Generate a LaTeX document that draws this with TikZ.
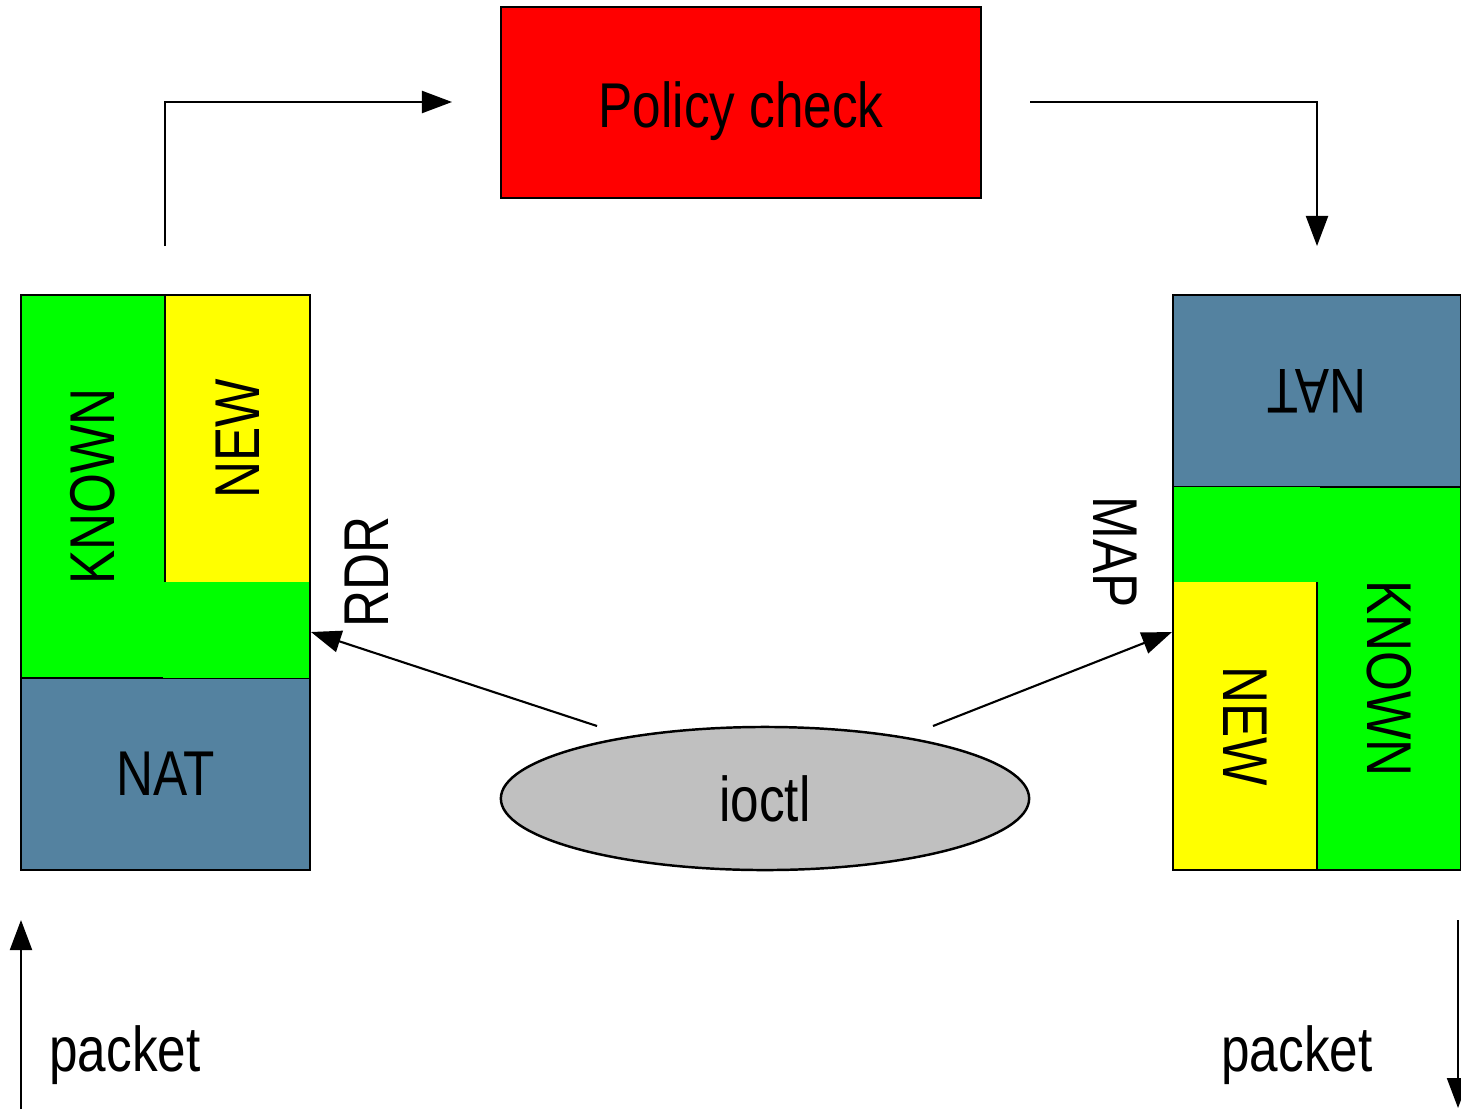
\documentclass[tikz,border=0pt]{standalone}
\usepackage{fontspec}
\setmainfont{Liberation Sans}[FakeStretch=0.81]
\usetikzlibrary{arrows.meta,shapes.geometric}

\definecolor{natblue}{HTML}{5482A0}
\definecolor{kgreen}{HTML}{00FF00}
\definecolor{nyellow}{HTML}{FFFF00}
\definecolor{pred}{HTML}{FF0000}
\definecolor{iogray}{HTML}{C0C0C0}

\begin{document}
\begin{tikzpicture}[x=0.01cm,y=-0.01cm,
  box/.style={draw, line width=0.7pt, inner sep=0pt, font=\fontsize{18}{21}\selectfont},
  newbox/.style={fill=nyellow, inner sep=0pt, font=\fontsize{18}{21}\selectfont},
  patch/.style={fill=kgreen, inner sep=0pt},
  frame/.style={draw, line width=0.7pt, inner sep=0pt},
  lbl/.style={inner sep=0pt, font=\fontsize{18}{21}\selectfont},
  arr/.style={-{Triangle[length=0.3cm,width=0.22cm]}, line width=0.6pt}]
\useasboundingbox (0,0) rectangle (1461,1109);

% policy box and ioctl
\node [box, fill=pred, minimum width=4.80cm, minimum height=1.91cm] (pol) at (741,102.5) {\raisebox{-7.2pt}[0pt][0pt]{Policy check}};
\node [box, ellipse, fill=iogray, minimum width=5.28cm, minimum height=1.43cm] (io) at (765,798.5) {ioctl};

% left block
\node [box, fill=natblue, minimum width=2.89cm, minimum height=1.92cm] (lnat) at (165.5,774) {NAT};
\node [newbox, rotate=90, minimum width=2.87cm, minimum height=1.45cm] (lnew) at (237.5,438.5) {NEW};
\node [box, fill=kgreen, rotate=90, minimum width=3.83cm, minimum height=1.44cm] (lknown) at (93,486.5) {KNOWN};
\node [patch, minimum width=1.47cm, minimum height=0.96cm] (lfill) at (236.5,630) {};
\node [frame, minimum width=2.89cm, minimum height=5.75cm] (lframe) at (165.5,582.5) {};

% right block
\node [box, fill=natblue, rotate=180, minimum width=2.88cm, minimum height=1.92cm] (rnat) at (1317,391) {NAT};
\node [newbox, rotate=-90, minimum width=2.88cm, minimum height=1.44cm] (rnew) at (1245,726) {NEW};
\node [box, fill=kgreen, rotate=-90, minimum width=3.83cm, minimum height=1.44cm] (rknown) at (1389,678.5) {KNOWN};
\node [patch, minimum width=1.47cm, minimum height=0.95cm] (rfill) at (1246,534.5) {};
\node [frame, minimum width=2.88cm, minimum height=5.75cm] (rframe) at (1317,582.5) {};

% labels
\node [lbl, rotate=90] (rdr) at (367,572) {RDR};
\node [lbl, rotate=-90] (map) at (1115,552) {MAP};
\node [lbl] (lpk) at (125,1055) {packet};
\node [lbl] (rpk) at (1297,1055) {packet};

% arrow ends
\coordinate (lin) at (21,1109);
\coordinate (lup) at (21,920);
\coordinate (lout) at (165,246);
\coordinate (pin) at (452,102);
\coordinate (pout) at (1030,102);
\coordinate (rin) at (1317,246);
\coordinate (rout) at (1458,920);
\coordinate (rend) at (1458,1108);
\coordinate (rdrs) at (597,726);
\coordinate (rdre) at (311,632);
\coordinate (maps) at (933,726);
\coordinate (mape) at (1172,632);

\draw [arr] (lin) -- (lup);
\draw [arr] (lout) |- (pin);
\draw [arr] (pout) -| (rin);
\draw [arr] (rout) -- (rend);
\draw [arr] (rdrs) -- (rdre);
\draw [arr] (maps) -- (mape);
\end{tikzpicture}
\end{document}
